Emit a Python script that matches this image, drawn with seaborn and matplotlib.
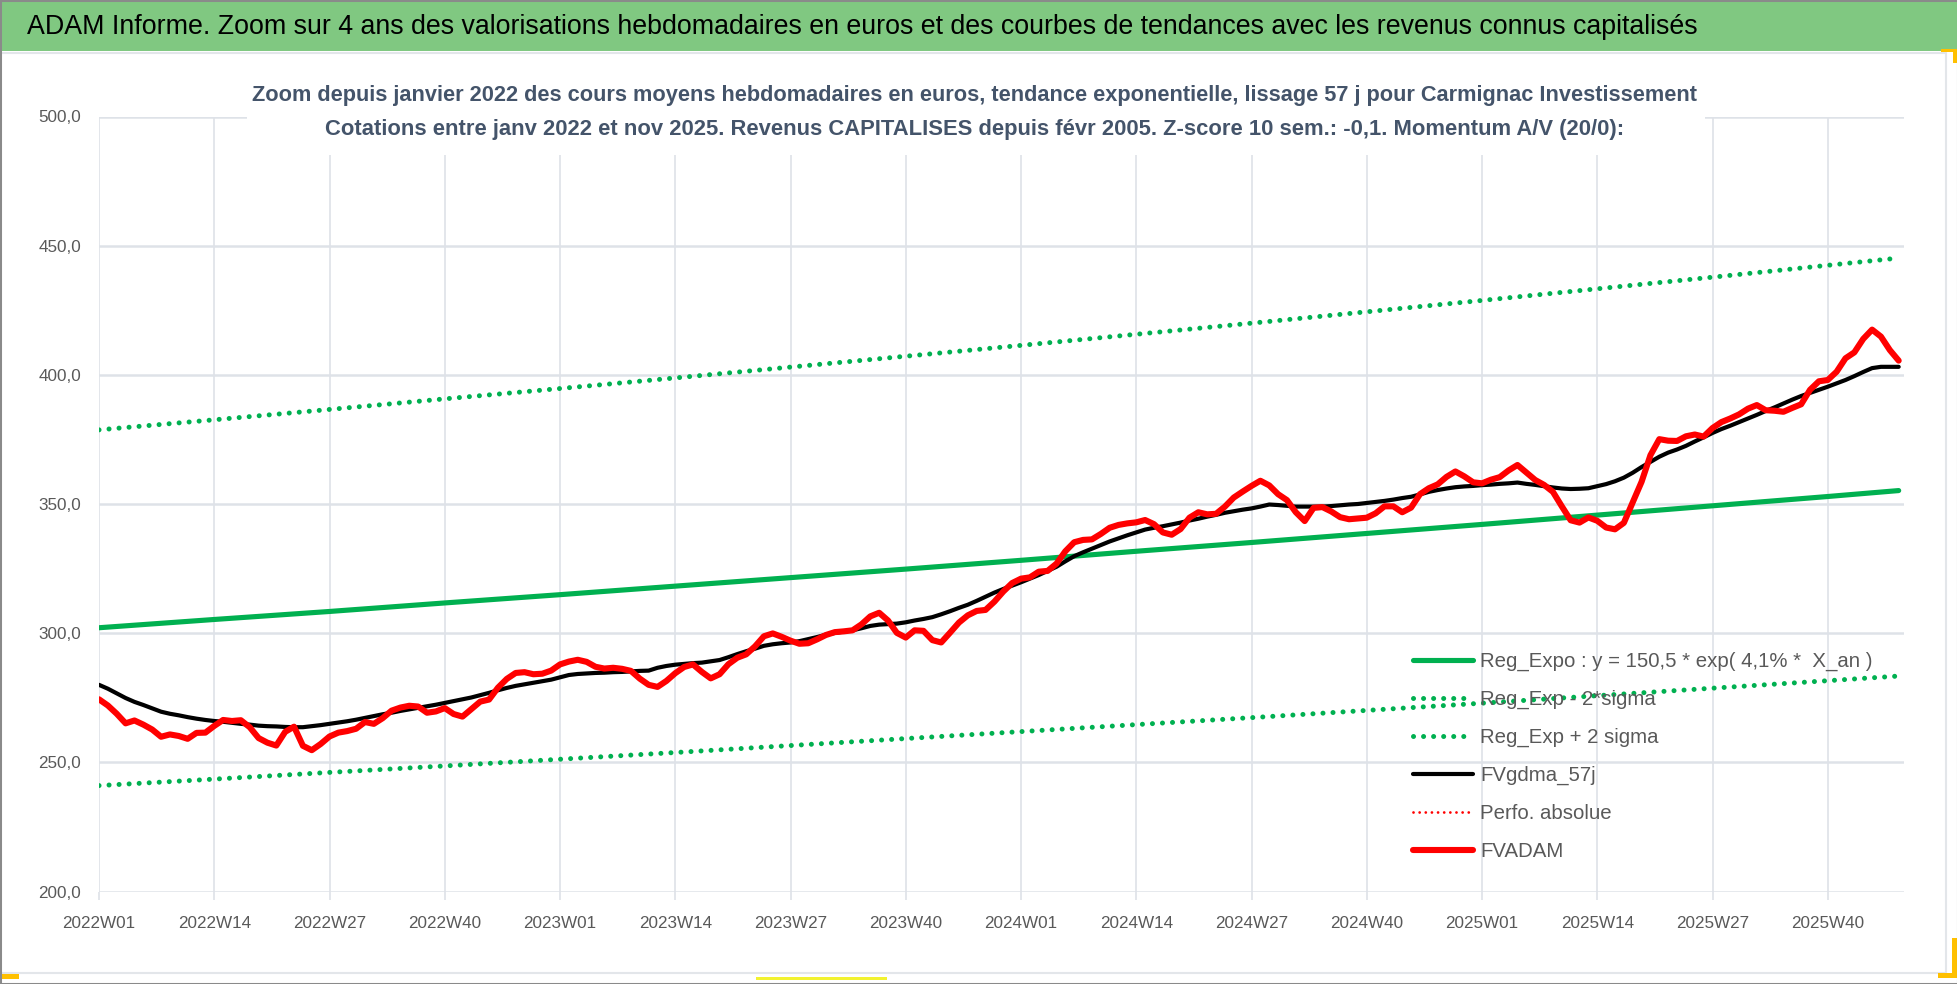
import numpy as np
import matplotlib
matplotlib.use("Agg")
import matplotlib.pyplot as plt
from matplotlib.patches import Rectangle
from matplotlib.lines import Line2D
import seaborn as sns

# ---------------- data ----------------
YEARS = [2022, 2023, 2024, 2025]
WEEKS_PER_YEAR = [52, 52, 52, 48]
WEEKS = [f"{y}W{w:02d}" for y, nw in zip(YEARS, WEEKS_PER_YEAR) for w in range(1, nw + 1)]

TICK_LABELS = ["2022W01", "2022W14", "2022W27", "2022W40",
               "2023W01", "2023W14", "2023W27", "2023W40",
               "2024W01", "2024W14", "2024W27", "2024W40",
               "2025W01", "2025W14", "2025W27", "2025W40"]

TREND_WEEKS = TICK_LABELS + ["2025W48"]
REG_EXPO = [302.1, 305.3, 308.4, 311.7, 314.9, 318.2, 321.5, 324.8, 328.2,
            331.7, 335.1, 338.6, 342.1, 345.7, 349.3, 352.9, 355.2]
REG_LOW = [241.0, 243.5, 246.1, 248.6, 251.2, 253.8, 256.5, 259.2, 261.9,
           264.6, 267.3, 270.1, 272.9, 275.8, 278.7, 281.6, 283.4]
REG_HIGH = [378.7, 382.6, 386.6, 390.7, 394.7, 398.8, 403.0, 407.2, 411.4,
            415.7, 420.0, 424.4, 428.8, 433.3, 437.8, 442.4, 445.2]

FVADAM = [
    274.4, 272.0, 268.8, 265.1, 266.2, 264.6, 262.7, 259.9, 260.8, 260.2,
    259.1, 261.4, 261.5, 264.1, 266.4, 266.0, 266.3, 263.6, 259.4, 257.6,
    256.5, 261.8, 263.8, 256.4, 254.7, 257.1, 260.0, 261.5, 262.1, 263.0,
    265.6, 264.9, 267.1, 270.0, 271.2, 271.9, 271.6, 269.2, 269.7, 271.0,
    268.7, 267.7, 270.6, 273.5, 274.3, 278.9, 282.3, 284.6, 284.9, 284.1,
    284.3, 285.5, 287.9, 289.0, 289.7, 288.9, 287.0, 286.3, 286.6, 286.2,
    285.4, 282.4, 280.0, 279.2, 281.5, 284.5, 286.9, 287.9, 285.0, 282.5,
    284.1, 288.0, 290.5, 291.8, 294.9, 298.8, 299.9, 298.6, 297.1, 295.9,
    296.1, 297.6, 299.3, 300.4, 300.7, 301.1, 303.4, 306.5, 307.9, 304.9,
    300.1, 298.3, 301.1, 300.9, 297.3, 296.4, 300.2, 304.1, 306.9, 308.6,
    309.0, 312.2, 316.1, 319.4, 321.1, 321.6, 323.8, 324.1, 326.9, 331.7,
    335.2, 336.1, 336.3, 338.4, 340.8, 341.9, 342.5, 342.9, 343.8, 342.2,
    339.0, 338.1, 340.3, 344.7, 346.8, 346.0, 346.2, 349.0, 352.5, 354.8,
    357.0, 359.0, 357.2, 353.8, 351.5, 346.8, 343.4, 348.5, 348.8, 347.1,
    344.9, 344.1, 344.4, 344.7, 346.4, 349.1, 349.1, 346.8, 348.6, 353.8,
    356.1, 357.6, 360.5, 362.6, 360.7, 358.4, 358.0, 359.4, 360.4, 363.0,
    365.1, 362.2, 359.3, 357.4, 354.7, 349.1, 343.7, 342.8, 344.8, 343.5,
    340.9, 340.2, 342.7, 350.6, 358.6, 368.9, 375.1, 374.5, 374.4, 376.2,
    376.9, 376.1, 379.4, 381.7, 383.1, 384.7, 386.9, 388.3, 386.3, 386.1,
    385.7, 387.2, 388.6, 394.2, 397.5, 398.0, 401.2, 406.4, 408.7, 413.9,
    417.5, 414.8, 409.6, 405.5]

FVGDMA = [
    280.0, 278.5, 276.7, 274.9, 273.4, 272.2, 270.9, 269.6, 268.8, 268.2,
    267.5, 266.9, 266.4, 266.0, 265.7, 265.3, 264.9, 264.6, 264.2, 264.0,
    263.9, 263.7, 263.6, 263.6, 264.0, 264.4, 264.9, 265.4, 265.9, 266.5,
    267.2, 267.9, 268.6, 269.2, 269.9, 270.5, 271.1, 271.7, 272.3, 273.0,
    273.7, 274.4, 275.1, 276.0, 276.9, 277.9, 278.8, 279.6, 280.2, 280.8,
    281.4, 282.0, 282.9, 283.8, 284.2, 284.4, 284.6, 284.7, 284.9, 285.0,
    285.2, 285.4, 285.5, 286.6, 287.3, 287.8, 288.1, 288.4, 288.6, 289.1,
    289.6, 290.7, 291.9, 293.0, 294.0, 295.1, 295.7, 296.1, 296.4, 296.9,
    297.7, 298.5, 299.4, 300.1, 300.6, 301.1, 301.9, 302.8, 303.3, 303.5,
    303.7, 304.2, 304.9, 305.5, 306.2, 307.3, 308.5, 309.8, 311.0, 312.5,
    314.1, 315.7, 317.1, 318.4, 319.7, 321.1, 322.5, 324.1, 325.7, 327.8,
    329.8, 331.3, 332.7, 334.1, 335.5, 336.7, 337.9, 339.0, 340.1, 340.8,
    341.4, 342.1, 342.8, 343.6, 344.3, 345.1, 345.8, 346.6, 347.2, 347.8,
    348.3, 349.0, 349.8, 349.6, 349.3, 349.0, 349.0, 349.0, 349.0, 349.2,
    349.5, 349.8, 350.0, 350.4, 350.8, 351.2, 351.7, 352.3, 352.8, 353.7,
    354.7, 355.4, 356.0, 356.5, 356.8, 357.0, 357.3, 357.5, 357.8, 358.0,
    358.3, 357.8, 357.4, 356.9, 356.4, 356.0, 355.8, 355.9, 356.1, 356.9,
    357.7, 358.8, 360.2, 362.1, 364.3, 366.3, 368.3, 369.9, 371.1, 372.5,
    374.2, 375.8, 377.5, 379.0, 380.3, 381.7, 383.1, 384.5, 386.0, 387.4,
    388.9, 390.4, 391.8, 393.0, 394.2, 395.4, 396.7, 398.0, 399.5, 401.1,
    402.6, 403.1, 403.1, 403.1]

PERFO_ABSOLUE = []  # series shown in legend only

Y_TICKS = [200, 250, 300, 350, 400, 450, 500]

TITLE = ("ADAM Informe. Zoom sur 4 ans des valorisations hebdomadaires en euros "
         "et des courbes de tendances avec les revenus connus capitalisés")
SUB1 = ("Zoom depuis janvier 2022 des cours moyens hebdomadaires en euros, tendance "
        "exponentielle, lissage 57 j pour Carmignac Investissement")
SUB2 = ("Cotations entre janv 2022 et nov 2025. Revenus CAPITALISES depuis févr 2005. "
        "Z-score 10 sem.: -0,1. Momentum A/V (20/0):")
LABELS = ["Reg_Expo : y = 150,5 * exp( 4,1% *  X_an )", "Reg_Exp - 2*sigma",
          "Reg_Exp + 2 sigma", "FVgdma_57j", "Perfo. absolue", "FVADAM"]

# ---------------- style ----------------
sns.set_theme(style="white")
FONTS = ["Liberation Sans", "DejaVu Sans"]
plt.rcParams["font.family"] = FONTS
plt.rcParams["axes.axisbelow"] = True

W, H = 1958, 984
fig = plt.figure(figsize=(W / 100, H / 100), dpi=100)
fig.patch.set_facecolor("white")

def fx(px):
    return px / W

def fy(py):
    return 1 - py / H

ax_left, ax_right, ax_top, ax_bot = 99, 1904, 116.5, 891.5
ax = fig.add_axes([fx(ax_left), fy(ax_bot), fx(ax_right - ax_left), (ax_bot - ax_top) / H])
ax.set_facecolor("white")

GREEN = "#00B050"
RED = "#FF0000"
GRID = "#DEE2E8"
TXT = "#595959"

x_all = np.arange(len(WEEKS))
x_trend = [WEEKS.index(w) for w in TREND_WEEKS]
dots = (0, (0.01, 2.0))

sns.lineplot(x=x_trend, y=REG_EXPO, ax=ax, color=GREEN, lw=3.7,
             label=LABELS[0], solid_capstyle="round", zorder=2)
sns.lineplot(x=x_trend, y=REG_LOW, ax=ax, color=GREEN, lw=3.6, linestyle=dots,
             dash_capstyle="round", label=LABELS[1], zorder=2)
sns.lineplot(x=x_trend, y=REG_HIGH, ax=ax, color=GREEN, lw=3.6, linestyle=dots,
             dash_capstyle="round", label=LABELS[2], zorder=2)
sns.lineplot(x=x_all, y=FVGDMA, ax=ax, color="black", lw=3.0,
             label=LABELS[3], solid_capstyle="round", zorder=3)
ax.plot(np.arange(len(PERFO_ABSOLUE)), PERFO_ABSOLUE, color=RED, lw=2.0,
        linestyle=(0, (0.01, 2.2)), dash_capstyle="round",
        label=LABELS[4], zorder=3)
sns.lineplot(x=x_all, y=FVADAM, ax=ax, color=RED, lw=4.4,
             label=LABELS[5], solid_capstyle="round", solid_joinstyle="round", zorder=4)

ax.set_xlim(0, len(WEEKS) - 0.4)
ax.set_ylim(200, 500)
ax.set_yticks(Y_TICKS)
ax.set_yticklabels([f"{v:.1f}".replace(".", ",") for v in Y_TICKS])
ax.set_xticks([WEEKS.index(t) for t in TICK_LABELS])
ax.set_xticklabels(TICK_LABELS)
ax.set_xlabel("")
ax.set_ylabel("")
for s in ax.spines.values():
    s.set_visible(False)
ax.grid(False)
ax.yaxis.grid(True, color=GRID, lw=1.8)
ax.xaxis.grid(True, color=GRID, lw=1.2)
ax.tick_params(axis="x", length=6, width=1.2, color=GRID, pad=12,
               labelsize=12.3, labelcolor=TXT, bottom=True)
ax.tick_params(axis="y", length=0, pad=13, labelsize=12.3, labelcolor=TXT)

# white box behind the subtitle (hides gridlines)
ax.add_patch(Rectangle((fx(247), fy(155)), fx(1705 - 247), 95 / H,
                       transform=fig.transFigure, facecolor="white",
                       edgecolor="none", zorder=1, clip_on=False))

# legend
handles, labels = ax.get_legend_handles_labels()
order = [labels.index(l) for l in LABELS]
ax.legend([handles[i] for i in order], [labels[i] for i in order],
          loc="upper left", bbox_to_anchor=(fx(1413), fy(652)),
          bbox_transform=fig.transFigure, frameon=False, fontsize=14.7,
          labelcolor=TXT, handlelength=2.94, handletextpad=0.34,
          borderpad=0, borderaxespad=0, labelspacing=0.92)

# ---------------- decorations ----------------
fig.patches.append(Rectangle((0, fy(51)), 1, 49 / H, transform=fig.transFigure,
                             facecolor="#80C881", edgecolor="none", zorder=0))
fig.text(fx(27), fy(27), TITLE, ha="left", va="center", fontsize=19.3,
         color="black")
fig.text(fx(975), fy(95), SUB1, ha="center", va="center", fontsize=15.7,
         fontweight="bold", color="#44546A")
fig.text(fx(975), fy(130), SUB2, ha="center", va="center", fontsize=15.8,
         fontweight="bold", color="#44546A")

# thin frame lines
fig.lines.append(Line2D([0, fx(1946)], [fy(52.5), fy(52.5)], transform=fig.transFigure,
                        color="#E3E6EA", lw=1.5))
fig.lines.append(Line2D([0, fx(1946)], [fy(973), fy(973)], transform=fig.transFigure,
                        color="#E3E6EA", lw=1.5))
fig.lines.append(Line2D([fx(1946), fx(1946)], [fy(52.5), fy(973)], transform=fig.transFigure,
                        color="#E3E6EA", lw=1.5))
# selection handles / marks
for (x0, y0, w, h, c) in [(0, 974, 19, 5, "#FFC000"), (1941, 49, 17, 3, "#FFC000"),
                          (1953, 49, 5, 14, "#FFC000"), (1952, 938, 6, 40, "#FFC000"),
                          (1938, 973, 20, 5, "#FFC000"), (756, 977, 131, 3, "#F2F230")]:
    fig.patches.append(Rectangle((fx(x0), fy(y0 + h)), fx(w), h / H,
                                 transform=fig.transFigure, facecolor=c,
                                 edgecolor="none", zorder=5))
# outer border
fig.patches.append(Rectangle((0, 0), 1, 1, transform=fig.transFigure, fill=False,
                             edgecolor="#8A8A8A", lw=2.2, zorder=6))

fig.savefig("out.png", dpi=100)
